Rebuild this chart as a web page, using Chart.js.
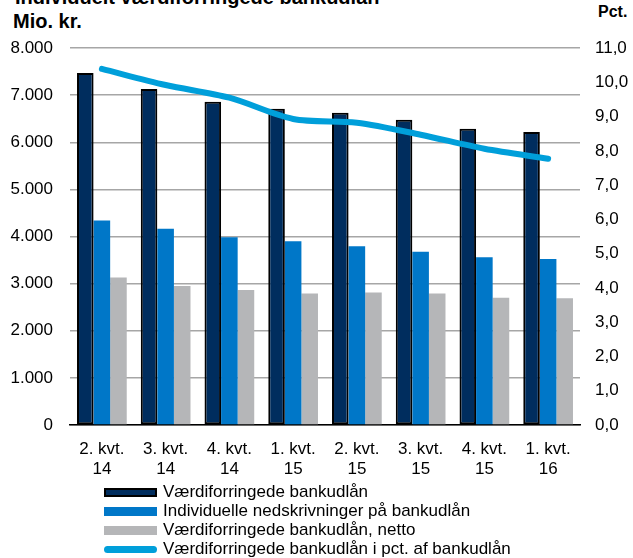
<!DOCTYPE html>
<html>
<head>
<meta charset="utf-8">
<script src="https://cdn.jsdelivr.net/npm/chart.js@4/dist/chart.umd.min.js"></script>
<style>
  body { margin:0; width:633px; height:558px; overflow:hidden; background:#fff; font-family:"Liberation Sans", Arial, sans-serif; position:relative; }
  .t { position:absolute; font-weight:bold; color:#000; white-space:nowrap; line-height:20px; }
  #wrap { position:absolute; left:0; top:0; width:633px; height:485px; }
  .leg { position:absolute; left:104px; font-size:17px; line-height:20px; white-space:nowrap; }
  .leg span.sw { position:absolute; left:0; top:6px; width:53px; height:9px; box-sizing:border-box; }
  .leg span.tx { position:absolute; left:59px; top:0; }
</style>
</head>
<body>
<div class="t" style="left:15px; top:-13px; font-size:20px;">Individuelt værdiforringede bankudlån</div>
<div class="t" style="left:13px; top:11px; font-size:20px;">Mio. kr.</div>
<div class="t" style="left:598px; top:2px; font-size:16px;">Pct.</div>
<div id="wrap"><canvas id="c"></canvas></div>

<div class="leg" style="top:482px"><span class="sw" style="background:#002d5e;border:2px solid #000"></span><span class="tx">Værdiforringede bankudlån</span></div>
<div class="leg" style="top:501px"><span class="sw" style="background:#0077c8"></span><span class="tx">Individuelle nedskrivninger på bankudlån</span></div>
<div class="leg" style="top:520px"><span class="sw" style="background:#b5b6b8"></span><span class="tx">Værdiforringede bankudlån, netto</span></div>
<div class="leg" style="top:539px"><span class="sw" style="background:#009fda;height:7px;top:7px;border-radius:4px"></span><span class="tx">Værdiforringede bankudlån i pct. af bankudlån</span></div>

<script>
// quarters on the x axis
const quarters = [['2. kvt.','14'],['3. kvt.','14'],['4. kvt.','14'],['1. kvt.','15'],['2. kvt.','15'],['3. kvt.','15'],['4. kvt.','15'],['1. kvt.','16']];
// mio. kr.
const impaired = [7470, 7130, 6860, 6710, 6625, 6475, 6285, 6220];
const writedowns = [4340, 4165, 3985, 3900, 3795, 3675, 3560, 3520];
const impairedNet = [3130, 2950, 2865, 2790, 2810, 2790, 2700, 2690];
// pct. af bankudlån
const impairedPct = [10.39, 9.92, 9.55, 8.93, 8.82, 8.47, 8.06, 7.77];

const font = { family: '"Liberation Sans", Arial, sans-serif', size: 17 };
const thousands = v => String(v).replace(/\B(?=(\d{3})+(?!\d))/g, '.');

new Chart(document.getElementById('c'), {
  type: 'bar',
  data: {
    labels: quarters,
    datasets: [
      { type:'line', data: impairedPct, yAxisID:'y1', borderColor:'#009fda', borderWidth:6, pointRadius:0, tension:0.3, borderCapStyle:'round', borderJoinStyle:'round', order:0 },
      { data: impaired, backgroundColor:'#002d5e', borderColor:'#000', borderWidth:2, borderSkipped:false, order:1 },
      { data: writedowns, backgroundColor:'#0077c8', order:1 },
      { data: impairedNet, backgroundColor:'#b5b6b8', order:1 }
    ]
  },
  options: {
    animation:false, responsive:true, maintainAspectRatio:false,
    datasets: { bar: { categoryPercentage:0.78, barPercentage:1.0 } },
    layout: { padding: { top:48, right:0, left:0, bottom:0 } },
    plugins: { legend:{ display:false }, tooltip:{ enabled:false } },
    scales: {
      x: {
        offset:true,
        grid:{ display:false },
        border:{ color:'#000', width:1.5 },
        ticks:{ color:'#000', font:{ ...font, lineHeight:20/17 }, padding:6, maxRotation:0 }
      },
      y: {
        position:'left', min:0, max:8000,
        afterFit: s => { s.width = 70; },
        grid:{ color:'#a6a6a6', lineWidth:1.5, drawTicks:false },
        border:{ display:false },
        ticks:{ stepSize:1000, color:'#000', font, padding:17, callback: v => thousands(v) }
      },
      y1: {
        position:'right', min:0, max:11,
        afterFit: s => { s.width = 53; },
        grid:{ display:false, drawTicks:false },
        border:{ display:false },
        ticks:{ stepSize:1, color:'#000', font, padding:15, callback: v => v.toFixed(1).replace('.', ',') }
      }
    }
  }
});
</script>
</body>
</html>
